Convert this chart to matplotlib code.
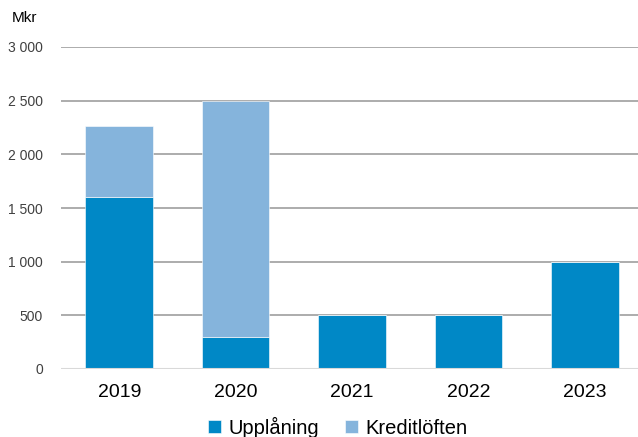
import matplotlib.pyplot as plt
import numpy as np

# data (Mkr)
years = ["2019", "2020", "2021", "2022", "2023"]
upplaning = [1600, 300, 500, 500, 1000]
kreditloften = [665, 2200, 0, 0, 0]
yticks = [0, 500, 1000, 1500, 2000, 2500, 3000]
ytick_labels = ["0", "500", "1 000", "1 500", "2 000", "2 500", "3 000"]

dark = "#0088c6"
light = "#85b4dc"

plt.rcParams['font.family'] = ['Liberation Sans', 'DejaVu Sans']

fig = plt.figure(figsize=(6.38, 4.37), dpi=100)
ax = fig.add_axes([61 / 638, 68 / 437, 1 - 61 / 638, 322 / 437])

x = np.arange(len(years))
ax.bar(x, upplaning, width=0.58, color=dark, edgecolor="white", linewidth=0.4,
       label="Upplåning", zorder=3)
ax.bar(x, kreditloften, bottom=upplaning, width=0.58, color=light, edgecolor="white",
       linewidth=0.4, label="Kreditlöften", zorder=3)

ax.set_xlim(-0.5, 4.455)
ax.set_ylim(0, 3000)
ax.set_yticks(yticks)
ax.set_yticklabels(ytick_labels, fontsize=10, color="#404040")
ax.set_xticks(x)
ax.set_xticklabels(years, fontsize=14, color="black")
ax.tick_params(axis="y", length=0, pad=13)
ax.tick_params(axis="x", length=0, pad=11)

for v in yticks[1:]:
    ax.axhline(v, color="#a6a6a6", linewidth=1.3, zorder=1)
ax.axhline(0, color="#d9d9d9", linewidth=1.5, zorder=4)

for s in ax.spines.values():
    s.set_visible(False)

fig.text(12 / 638, 1 - 18 / 437, "Mkr", fontsize=11, va="center", ha="left")

fig.legend(loc="center", bbox_to_anchor=(338 / 638, 1 - 427 / 437), ncol=2,
           frameon=False, fontsize=14.5, handlelength=0.65, handleheight=0.65,
           handletextpad=0.35, columnspacing=1.3, borderaxespad=0)

fig.savefig("out.png", dpi=100)
